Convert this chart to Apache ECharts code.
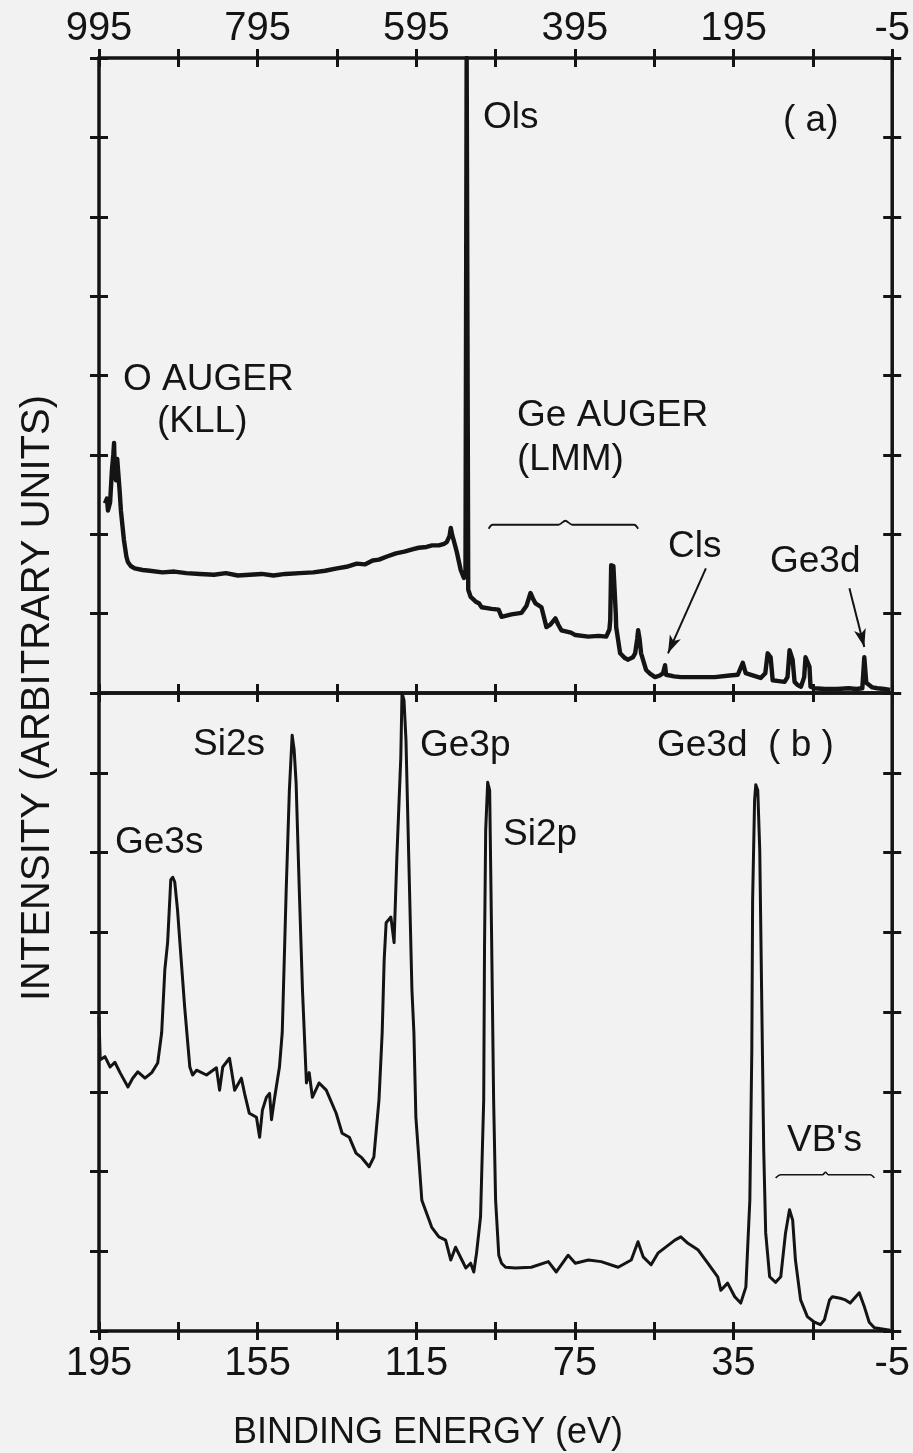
<!DOCTYPE html>
<html>
<head>
<meta charset="utf-8">
<title>XPS spectra</title>
<script src="https://cdn.jsdelivr.net/npm/echarts@6/dist/echarts.min.js"></script>
<style>
  html, body { margin: 0; padding: 0; background: #f2f2f2; }
  #chart { width: 913px; height: 1453px; }
</style>
</head>
<body>
<div id="chart"></div>
<script>
// ---- (a) survey spectrum: binding energy (eV) and intensity (arb. units) ----
const surveyEnergy = [
  987.5, 985, 983.7, 981, 978.7, 977, 976, 975, 973.6, 972, 971, 969, 967.4, 963.6, 960.5, 958.6,
  955, 950, 940, 931, 915, 900, 885, 868, 850, 835, 820, 805, 790, 775, 760, 742, 725, 710, 695,
  683, 670, 660, 650, 642, 632, 620.6, 610, 600, 592, 582, 575, 566.6, 560, 556.6, 553, 551.5,
  549.5, 548, 544, 539, 535, 533, 531.5, 529.5, 526.4, 520, 516, 512.6, 500, 491.2, 487.5, 475,
  462.3, 456, 451, 447.5, 444.7, 437.2, 430.9, 426, 419.6, 416, 412.1, 400, 394.5, 378.2, 365,
  355.5, 351.5, 350.5, 349.3, 346.5, 345.5, 343.5, 343, 338, 332, 327.9, 322, 319.1, 316.5,
  315.3, 313.5, 311.6, 305.3, 300, 294, 288, 283.9, 281.4, 280.1, 270, 261.3, 240, 218.6, 200,
  189.7, 183.4, 179.7, 170, 160.8, 155, 152, 148.3, 145.7, 138, 130.7, 127, 124.4, 120.6, 118.1,
  114.3, 110, 106, 104.3, 99.3, 98, 93, 80, 64.1, 50, 40, 32.7, 30.2, 27.7, 20, 13.8, 5, -2.5
];
const surveyIntensity = [
  2.39, 2.45, 2.30, 2.40, 2.81, 3.00, 3.15, 2.75, 2.68, 2.95, 2.81, 2.55, 2.30, 1.93, 1.72, 1.65,
  1.60, 1.57, 1.55, 1.54, 1.52, 1.53, 1.51, 1.50, 1.49, 1.51, 1.48, 1.49, 1.50, 1.48, 1.50, 1.51,
  1.52, 1.54, 1.57, 1.59, 1.63, 1.62, 1.67, 1.68, 1.72, 1.76, 1.78, 1.81, 1.83, 1.84, 1.86, 1.86,
  1.88, 1.90, 1.98, 2.08, 1.98, 1.93, 1.78, 1.55, 1.45, 1.50, 8.00, 1.30, 1.21, 1.15, 1.13, 1.08,
  1.06, 1.05, 0.96, 0.99, 1.01, 1.10, 1.26, 1.18, 1.13, 1.08, 0.83, 0.86, 0.94, 0.86, 0.79, 0.76,
  0.73, 0.71, 0.72, 0.71, 0.80, 0.92, 1.61, 1.60, 1.59, 1.00, 0.83, 0.50, 0.44, 0.42, 0.45, 0.50,
  0.68, 0.79, 0.68, 0.50, 0.29, 0.24, 0.20, 0.22, 0.25, 0.35, 0.23, 0.21, 0.20, 0.20, 0.20, 0.22,
  0.23, 0.38, 0.25, 0.22, 0.19, 0.25, 0.50, 0.45, 0.16, 0.15, 0.14, 0.20, 0.54, 0.42, 0.14, 0.10,
  0.08, 0.20, 0.45, 0.33, 0.08, 0.06, 0.05, 0.05, 0.06, 0.05, 0.06, 0.45, 0.13, 0.07, 0.06, 0.05, 0.04
];

// ---- (b) low binding-energy region ----
const detailEnergy = [
  195.0, 194.7, 193.5, 192.2, 191.0, 189.7, 187.7, 186.5, 185.2, 183.4, 181.7, 180.2, 179.2, 178.4,
  177.7, 176.9, 176.4, 175.9, 175.2, 174.6, 173.4, 172.1, 171.4, 170.4, 167.9, 165.4, 164.6, 163.8,
  162.1, 161.6, 160.8, 159.1, 158.3, 157.1, 155.3, 154.5, 153.8, 152.8, 152.0, 151.5, 150.8, 149.5,
  148.8, 147.8, 147.0, 146.3, 145.8, 145.3, 144.5, 143.7, 142.7, 142.0, 141.2, 139.5, 137.7, 135.2,
  133.7, 131.9, 130.2, 128.7, 126.9, 125.7, 124.4, 123.6, 123.1, 122.6, 121.4, 120.6, 119.9, 118.9,
  118.6, 118.1, 117.6, 116.9, 116.1, 115.6, 115.1, 113.6, 111.1, 109.3, 107.6, 106.3, 105.1, 103.5,
  102.5, 101.3, 100.5, 99.8, 98.8, 98.0, 97.8, 97.5, 97.0, 96.5, 96.0, 95.5, 95.0, 94.2, 93.5, 92.5,
  90.0, 86.0, 81.7, 79.7, 76.7, 74.9, 71.6, 68.4, 64.1, 60.8, 59.1, 57.8, 55.8, 54.0, 49.8, 48.3,
  46.5, 44.0, 41.5, 39.0, 38.2, 36.5, 34.7, 33.2, 31.9, 30.9, 30.4, 30.2, 29.7, 29.4, 28.9, 28.4,
  27.9, 27.4, 26.9, 25.9, 24.4, 23.1, 21.9, 20.9, 20.1, 19.4, 18.1, 16.4, 14.6, 13.1, 12.1, 10.8,
  10.1, 8.1, 6.8, 5.6, 3.3, 2.0, 0.8, -0.5, -4.5
];
const detailIntensity = [
  3.94, 3.40, 3.44, 3.31, 3.37, 3.24, 3.06, 3.17, 3.25, 3.17, 3.24, 3.36, 3.74, 4.53,
  4.87, 5.66, 5.69, 5.63, 5.28, 4.87, 4.06, 3.31, 3.21, 3.27, 3.21, 3.30, 3.02, 3.31,
  3.42, 3.27, 3.02, 3.17, 2.98, 2.73, 2.68, 2.43, 2.77, 2.93, 2.98, 2.65, 2.90, 3.31,
  3.74, 5.53, 6.78, 7.47, 7.29, 6.87, 5.53, 4.28, 3.11, 3.24, 2.93, 3.11, 3.02, 2.73,
  2.48, 2.43, 2.23, 2.17, 2.06, 2.18, 2.90, 3.74, 4.65, 5.12, 5.19, 4.87, 5.94, 7.20,
  8.00, 7.91, 7.41, 5.94, 4.28, 3.74, 2.68, 1.64, 1.30, 1.18, 1.14, 0.89, 1.05, 0.89,
  0.79, 0.85, 0.74, 0.98, 1.43, 2.90, 4.78, 6.28, 6.88, 6.78, 4.90, 2.90, 1.64, 0.95, 0.85, 0.80,
  0.79, 0.80, 0.87, 0.74, 0.95, 0.85, 0.89, 0.87, 0.80, 0.89, 1.12, 0.93, 0.83, 0.98, 1.14, 1.18,
  1.10, 1.02, 0.85, 0.68, 0.51, 0.60, 0.43, 0.35, 0.55, 1.64, 3.52, 5.40, 6.66, 6.85, 6.78, 6.03,
  4.15, 2.27, 1.23, 0.68, 0.61, 0.68, 1.23, 1.52, 1.39, 0.89, 0.39, 0.18, 0.11, 0.08, 0.14, 0.39,
  0.43, 0.41, 0.39, 0.35, 0.48, 0.30, 0.11, 0.04, 0.01
];

// Axis tick labels (binding energy, eV)
const surveyTickLabels = ['995', '795', '595', '395', '195', '-5'];
const detailTickLabels = ['195', '155', '115', '75', '35', '-5'];

// Range braces drawn over the Ge LMM Auger group and the valence bands
const lmmBraceEnergy = [503.8, 498.8, 415.8, 407.1, 398.3, 320.4, 315.3];
const lmmBraceLevel  = [2.07, 2.12, 2.12, 2.17, 2.12, 2.12, 2.07];
const vbBraceEnergy  = [24.4, 23.1, 12.6, 11.8, 11.1, 0.5, -0.5];
const vbBraceLevel   = [1.92, 1.96, 1.96, 1.99, 1.96, 1.96, 1.92];

// Pointer arrows in (a): [from energy, from level, to energy, to level]
const c1sArrow   = [229.9, 1.57, 277.7, 0.50];
const ge3dArrow  = [49.0, 1.32, 30.2, 0.58];

// The energy axes run from -5 eV; shift by 5 so each axis starts at 0
const SHIFT = 5;
const toPoints = (xs, ys) => xs.map((e, i) => [e + SHIFT, ys[i]]);

const INK = '#141414';
const FONT = '"Liberation Sans", Arial, sans-serif';

function crossTickAxis(base) {
  return Object.assign({
    type: 'value',
    axisLine: { show: false, onZero: false },
    splitLine: { show: false },
    axisLabel: { show: false },
    axisTick: { show: true, inside: false, length: 18, lineStyle: { color: INK, width: 3 } }
  }, base);
}

const chart = echarts.init(document.getElementById('chart'), null, { renderer: 'canvas' });

const option = {
  animation: false,
  backgroundColor: '#f2f2f2',
  grid: [
    { left: 99, top: 58, width: 796, height: 635, show: true, borderColor: INK, borderWidth: 3.5, backgroundColor: 'transparent' },
    { left: 99, top: 693, width: 796, height: 638, show: true, borderColor: INK, borderWidth: 3.5, backgroundColor: 'transparent' }
  ],
  xAxis: [
    // (a) top axis with labels
    crossTickAxis({
      gridIndex: 0, position: 'top', min: 0, max: 1000, interval: 100, inverse: true, offset: -9,
      axisLabel: {
        show: true, margin: 18, color: INK, fontSize: 40, fontFamily: FONT,
        formatter: v => (v % 200 === 0 ? surveyTickLabels[(1000 - v) / 200] : '')
      }
    }),
    // (a) lower edge, ticks pointing up
    crossTickAxis({
      gridIndex: 0, position: 'bottom', min: 0, max: 1000, interval: 100, inverse: true,
      axisTick: { show: true, inside: true, length: 9, lineStyle: { color: INK, width: 3 } }
    }),
    // (b) upper edge, ticks pointing down
    crossTickAxis({
      gridIndex: 1, position: 'top', min: 0, max: 200, interval: 20, inverse: true,
      axisTick: { show: true, inside: true, length: 9, lineStyle: { color: INK, width: 3 } }
    }),
    // (b) bottom axis with labels
    crossTickAxis({
      gridIndex: 1, position: 'bottom', min: 0, max: 200, interval: 20, inverse: true, offset: -9,
      axisLabel: {
        show: true, margin: 22, color: INK, fontSize: 40, fontFamily: FONT,
        formatter: v => (v % 40 === 0 ? detailTickLabels[(200 - v) / 40] : '')
      }
    })
  ],
  yAxis: [
    crossTickAxis({ gridIndex: 0, position: 'left',  min: 0, max: 8, interval: 1, offset: -9 }),
    crossTickAxis({ gridIndex: 0, position: 'right', min: 0, max: 8, interval: 1, offset: -9 }),
    crossTickAxis({ gridIndex: 1, position: 'left',  min: 0, max: 8, interval: 1, offset: -9 }),
    crossTickAxis({ gridIndex: 1, position: 'right', min: 0, max: 8, interval: 1, offset: -9 })
  ],
  series: [
    {
      name: 'survey', type: 'line', xAxisIndex: 0, yAxisIndex: 0,
      data: toPoints(surveyEnergy, surveyIntensity),
      showSymbol: false, symbol: 'none', silent: true, clip: true,
      lineStyle: { color: INK, width: 4.4, join: 'round' },
      markLine: {
        silent: true, symbol: ['none', 'arrow'], symbolSize: [9, 18],
        label: { show: false },
        lineStyle: { color: INK, width: 2, type: 'solid' },
        data: [c1sArrow, ge3dArrow].map(a => [
          { coord: [a[0] + SHIFT, a[1]] },
          { coord: [a[2] + SHIFT, a[3]] }
        ])
      }
    },
    {
      name: 'Ge LMM brace', type: 'line', xAxisIndex: 0, yAxisIndex: 0,
      data: toPoints(lmmBraceEnergy, lmmBraceLevel), smooth: 0.3,
      showSymbol: false, symbol: 'none', silent: true,
      lineStyle: { color: INK, width: 1.8 }
    },
    {
      name: 'detail', type: 'line', xAxisIndex: 3, yAxisIndex: 2,
      data: toPoints(detailEnergy, detailIntensity),
      showSymbol: false, symbol: 'none', silent: true, clip: true,
      lineStyle: { color: INK, width: 3, join: 'round' }
    },
    {
      name: 'VB brace', type: 'line', xAxisIndex: 3, yAxisIndex: 2,
      data: toPoints(vbBraceEnergy, vbBraceLevel), smooth: 0.3,
      showSymbol: false, symbol: 'none', silent: true,
      lineStyle: { color: INK, width: 1.6 }
    }
  ],
  graphic: [
    // peak and panel labels
    ...[
      ['Ols', 483, 118],
      ['( a)', 783, 121],
      ['O AUGER', 123, 380],
      ['(KLL)', 157, 422],
      ['Ge AUGER', 517, 416],
      ['(LMM)', 517, 460],
      ['Cls', 668, 547],
      ['Ge3d', 770, 562],
      ['Si2s', 193, 745],
      ['Ge3p', 420, 746],
      ['Ge3d  ( b )', 657, 746],
      ['Ge3s', 115, 843],
      ['Si2p', 503, 835],
      ["VB's", 787, 1141]
    ].map(([t, x, y]) => ({
      type: 'text', x: x, y: y, silent: true,
      style: { text: t, fill: INK, font: '37px ' + FONT, align: 'left', verticalAlign: 'middle' }
    })),
    {
      type: 'text', x: 428, y: 1433, silent: true,
      style: { text: 'BINDING ENERGY (eV)', fill: INK, font: '36px ' + FONT, align: 'center', verticalAlign: 'middle' }
    },
    {
      type: 'text', x: 38, y: 698, rotation: Math.PI / 2, silent: true,
      style: { text: 'INTENSITY (ARBITRARY UNITS)', fill: INK, font: '40px ' + FONT, align: 'center', verticalAlign: 'middle' }
    }
  ]
};

chart.setOption(option);
</script>
</body>
</html>
